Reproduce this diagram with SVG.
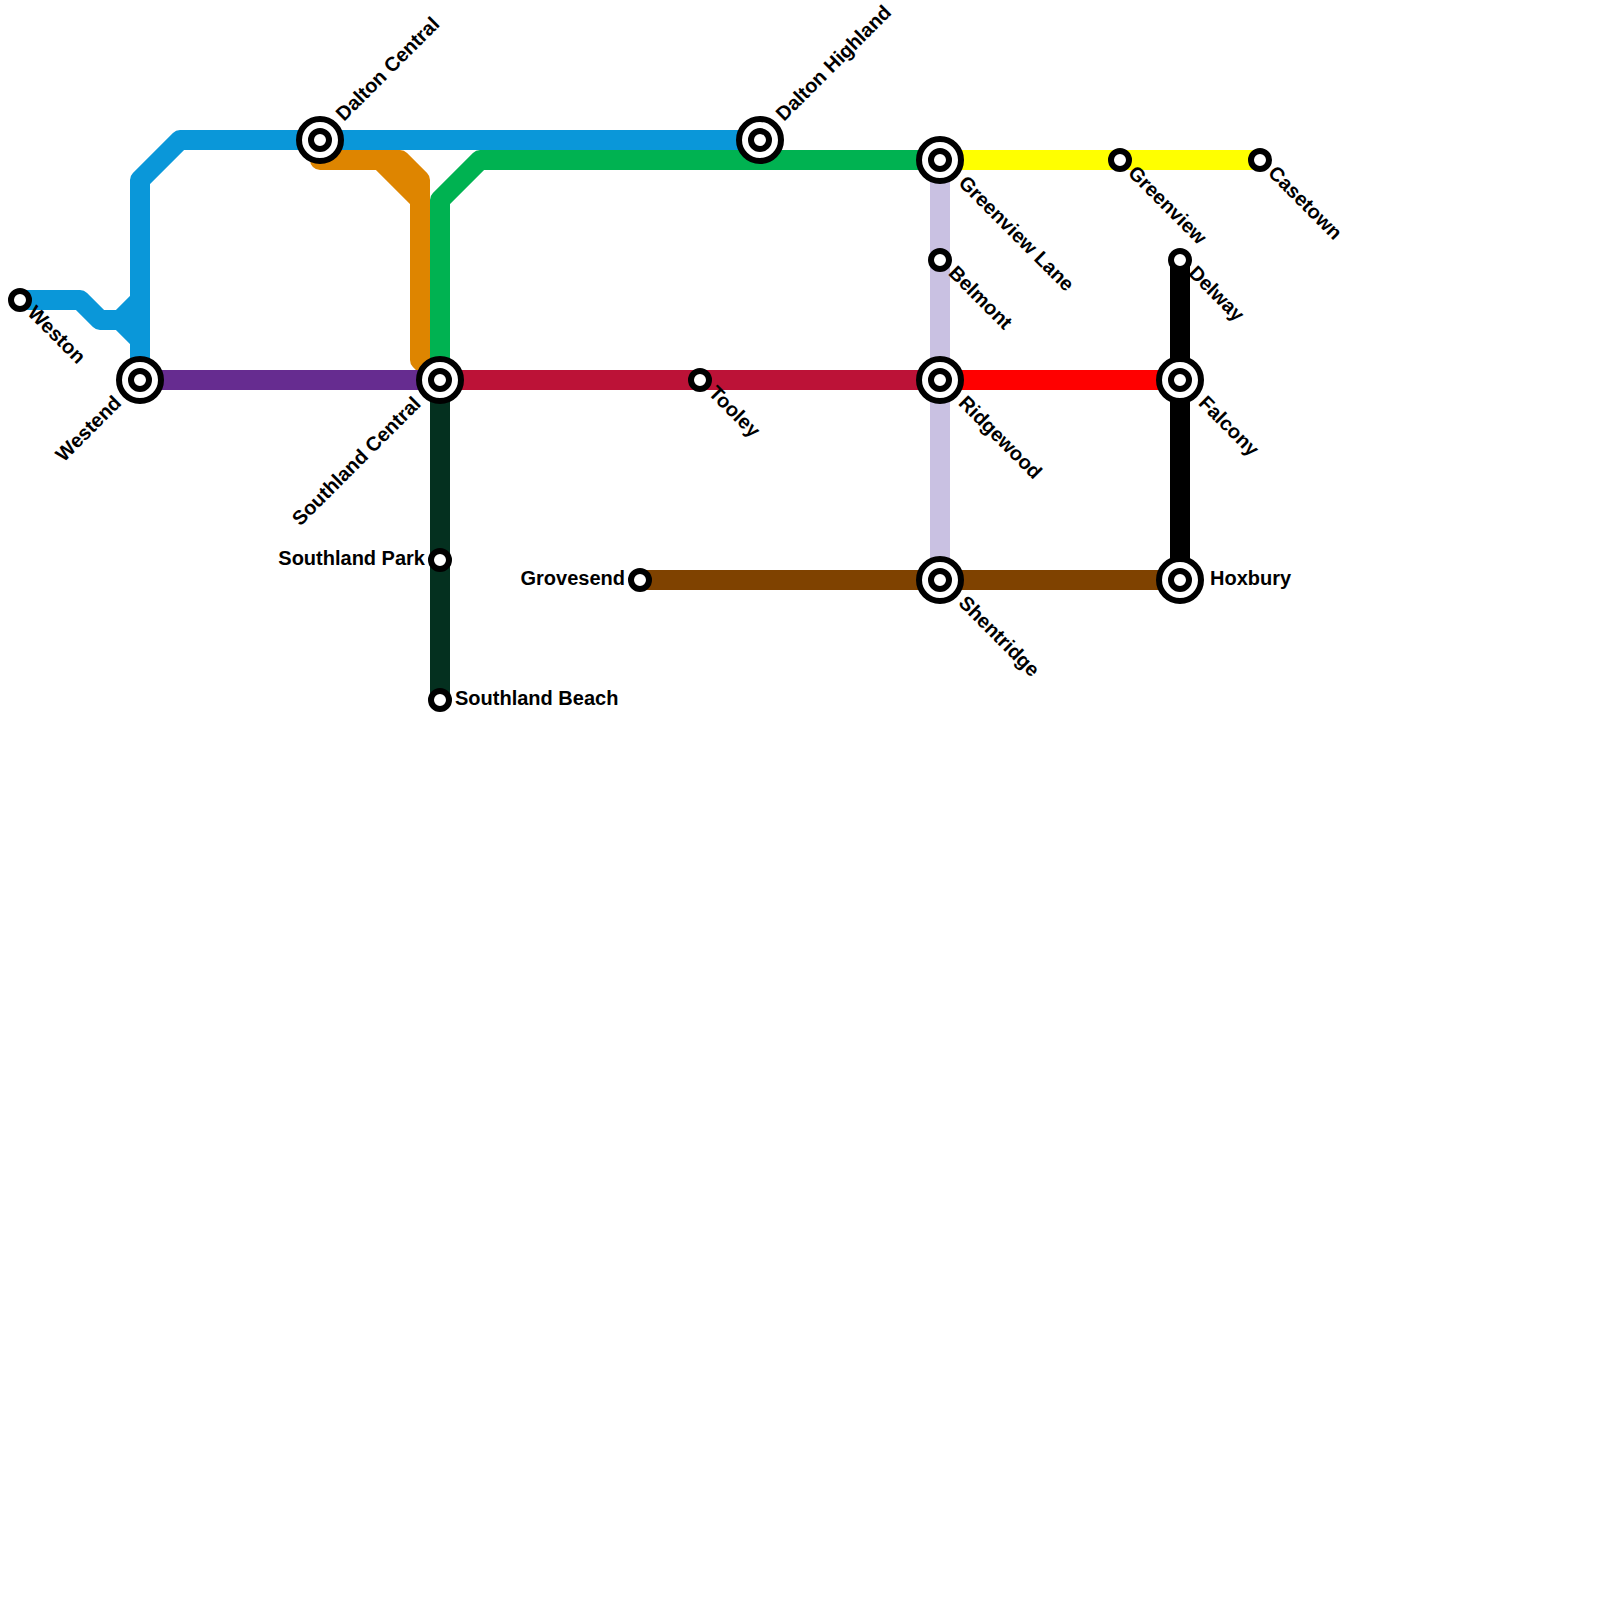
<svg xmlns="http://www.w3.org/2000/svg" width="1600" height="1600" viewBox="0 0 1600 1600">
<style>
.l{fill:none;stroke-width:20;stroke-linecap:round;stroke-linejoin:round}
.o{fill:#fff;stroke:#000;stroke-width:6}
.i{fill:#fff;stroke:#000;stroke-width:6}
text{font-family:"Liberation Sans",Arial,sans-serif;font-weight:700;font-size:20px;fill:#000}
.e{text-anchor:end}
</style>
<rect width="1600" height="1600" fill="#fff"/>
<g id="connectors">
<path class="l" stroke="#de8500" d="M320 160H400L420 180V360L440 380M380 160L420 200"/>
<path class="l" stroke="#00b251" d="M440 380V200L480 160H940"/>
<path class="l" stroke="#0a97d9" d="M20 300H80L100 320H120L140 340M120 320L140 300M140 380V180L180 140H760"/>
<path class="l" stroke="#662c90" d="M140 380H440"/>
<path class="l" stroke="#bc1237" d="M440 380H940"/>
<path class="l" stroke="#c9c1e2" style="stroke-linecap:butt" d="M940 160V580"/>
<path class="l" stroke="#f00" d="M940 380H1180"/>
<path class="l" stroke="#ff0" d="M940 160H1260"/>
<path class="l" stroke="#04301f" d="M440 380V700"/>
<path class="l" stroke="#000" d="M1180 260V580"/>
<path class="l" stroke="#7f4200" d="M640 580H1180"/>
</g>
<g id="weston"><circle class="i" cx="20" cy="300" r="9"/><text transform="translate(26.5 314) rotate(45)">Weston</text></g>
<g id="westend"><circle class="o" cx="140" cy="380" r="21"/><circle class="i" cx="140" cy="380" r="9"/><text class="e" transform="translate(122.500 404) rotate(-45)">Westend</text></g>
<g id="dalton-central"><circle class="o" cx="320" cy="140" r="21"/><circle class="i" cx="320" cy="140" r="9"/><text transform="translate(344 122) rotate(-45)">Dalton Central</text></g>
<g id="southland-central"><circle class="o" cx="440" cy="380" r="21"/><circle class="i" cx="440" cy="380" r="9"/><text class="e" transform="translate(422 405) rotate(-45)">Southland Central</text></g>
<g id="southland-park"><circle class="i" cx="440" cy="560" r="9"/><text class="e" x="425" y="565">Southland Park</text></g>
<g id="southland-beach"><circle class="i" cx="440" cy="700" r="9"/><text x="455" y="705">Southland Beach</text></g>
<g id="tooley"><circle class="i" cx="700" cy="380" r="9"/><text transform="translate(707.500 394) rotate(45)">Tooley</text></g>
<g id="grovesend"><circle class="i" cx="640" cy="580" r="9"/><text class="e" x="625" y="585">Grovesend</text></g>
<g id="dalton-highland"><circle class="o" cx="760" cy="140" r="21"/><circle class="i" cx="760" cy="140" r="9"/><text transform="translate(784 122) rotate(-45)">Dalton Highland</text></g>
<g id="greenview-lane"><circle class="o" cx="940" cy="160" r="21"/><circle class="i" cx="940" cy="160" r="9"/><text transform="translate(957.500 184) rotate(45)">Greenview Lane</text></g>
<g id="belmont"><circle class="i" cx="940" cy="260" r="9"/><text transform="translate(947.500 274) rotate(45)">Belmont</text></g>
<g id="ridgewood"><circle class="o" cx="940" cy="380" r="21"/><circle class="i" cx="940" cy="380" r="9"/><text transform="translate(957.500 404) rotate(45)">Ridgewood</text></g>
<g id="shentridge"><circle class="o" cx="940" cy="580" r="21"/><circle class="i" cx="940" cy="580" r="9"/><text transform="translate(957.500 604) rotate(45)">Shentridge</text></g>
<g id="greenview"><circle class="i" cx="1120" cy="160" r="9"/><text transform="translate(1127 174) rotate(45)">Greenview</text></g>
<g id="casetown"><circle class="i" cx="1260" cy="160" r="9"/><text transform="translate(1267 174) rotate(45)">Casetown</text></g>
<g id="delway"><circle class="i" cx="1180" cy="260" r="9"/><text transform="translate(1187.500 274) rotate(45)">Delway</text></g>
<g id="falcony"><circle class="o" cx="1180" cy="380" r="21"/><circle class="i" cx="1180" cy="380" r="9"/><text transform="translate(1197.500 404) rotate(45)">Falcony</text></g>
<g id="hoxbury"><circle class="o" cx="1180" cy="580" r="21"/><circle class="i" cx="1180" cy="580" r="9"/><text x="1210" y="585">Hoxbury</text></g>
</svg>
